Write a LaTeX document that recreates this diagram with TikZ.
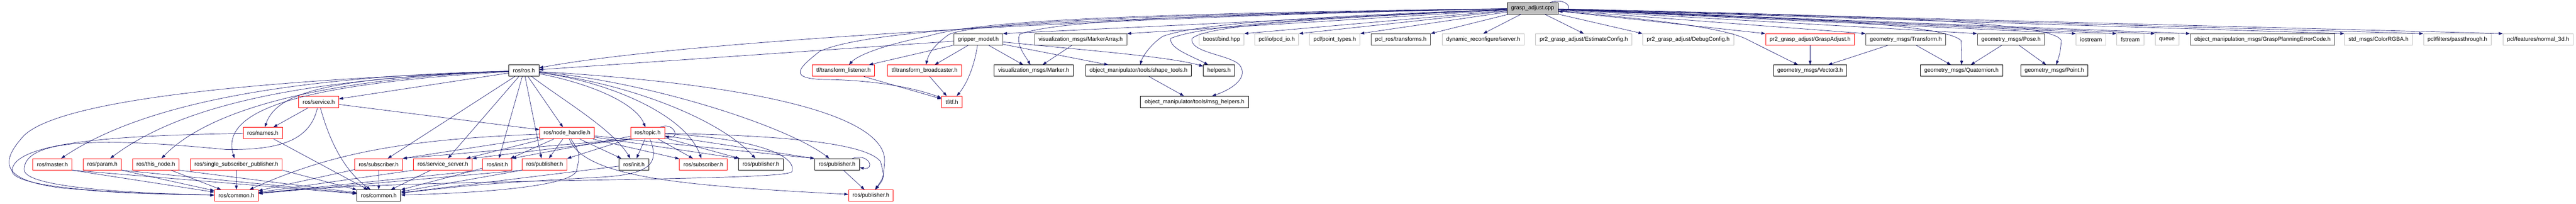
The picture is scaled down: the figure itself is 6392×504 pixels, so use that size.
\documentclass[tikz,border=0pt]{standalone}
\usepackage{fontspec}
\setmainfont{Liberation Sans}
\usetikzlibrary{arrows.meta}
\definecolor{edgeblue}{HTML}{191970}
\definecolor{greyA}{HTML}{404040}
\definecolor{greyB}{HTML}{BFBFBF}

\begin{document}
\begin{tikzpicture}[
    x=1pt, y=-1pt,
    file/.style={draw=black, line width=1.2pt, fill=white, minimum height=28pt, inner xsep=10pt, inner ysep=0pt, font=\fontsize{14}{16}\selectfont},
    redfile/.style={file, draw=red},
    grayfile/.style={file, draw=greyA},
    extfile/.style={file, draw=greyB},
    rootfile/.style={file, fill=greyB},
    edge/.style={draw=edgeblue, line width=0.9pt, -{Triangle[length=10pt,width=7pt]}}
]
\useasboundingbox (0,0) rectangle (6392,504);

% Define files
\node[rootfile] (root) at (3803,20.5) {grasp\_adjust.cpp};

\node[grayfile] (gripper) at (2427.5,97.75) {gripper\_model.h};
\node[grayfile] (markerarr) at (2681.5,97.75) {visualization\_msgs/MarkerArray.h};
\node[extfile] (bind) at (3031,97.75) {boost/bind.hpp};
\node[extfile] (pcdio) at (3168,97.75) {pcl/io/pcd\_io.h};
\node[extfile] (pointtypes) at (3312,97.75) {pcl/point\_types.h};
\node[grayfile] (pclros) at (3476,97.75) {pcl\_ros/transforms.h};
\node[extfile] (dynrec) at (3680.5,97.75) {dynamic\_reconfigure/server.h};
\node[extfile] (estcfg) at (3930,97.75) {pr2\_grasp\_adjust/EstimateConfig.h};
\node[extfile] (dbgcfg) at (4189,97.75) {pr2\_grasp\_adjust/DebugConfig.h};
\node[redfile] (graspadj) at (4491.5,97.75) {pr2\_grasp\_adjust/GraspAdjust.h};
\node[grayfile] (transform) at (4729,97.75) {geometry\_msgs/Transform.h};
\node[grayfile] (pose) at (4990,97.75) {geometry\_msgs/Pose.h};
\node[extfile] (iostream) at (5188.5,97.75) {iostream};
\node[extfile] (fstream) at (5286,97.75) {fstream};
\node[extfile] (queue) at (5377,97.75) {queue};
\node[grayfile] (errcode) at (5614,97.75) {object\_manipulation\_msgs/GraspPlanningErrorCode.h};
\node[extfile] (colorrgba) at (5902,97.75) {std\_msgs/ColorRGBA.h};
\node[extfile] (passthrough) at (6097.5,97.75) {pcl/filters/passthrough.h};
\node[extfile] (normald) at (6298,97.75) {pcl/features/normal\_3d.h};

\node[file] (rosros) at (1300,175) {ros/ros.h};
\node[redfile] (tflistener) at (2093,175) {tf/transform\_listener.h};
\node[redfile] (tfbroad) at (2294,175) {tf/transform\_broadcaster.h};
\node[file] (marker) at (2565,175) {visualization\_msgs/Marker.h};
\node[file] (shapetools) at (2825,175) {object\_manipulator/tools/shape\_tools.h};
\node[file] (helpers) at (3025,175) {helpers.h};
\node[file] (vector) at (4491.5,175) {geometry\_msgs/Vector3.h};
\node[file] (quaternion) at (4867,175) {geometry\_msgs/Quaternion.h};
\node[file] (point) at (5097.5,175) {geometry\_msgs/Point.h};

\node[redfile] (service) at (791,252.25) {ros/service.h};
\node[redfile] (tftf) at (2362,252.25) {tf/tf.h};
\node[file] (msghelpers) at (2964,252.25) {object\_manipulator/tools/msg\_helpers.h};

\node[redfile] (names) at (652,329.5) {ros/names.h};
\node[redfile] (nodehandle) at (1407,329.5) {ros/node\_handle.h};
\node[redfile] (topic) at (1607,329.5) {ros/topic.h};

\node[redfile] (master) at (130,406.75) {ros/master.h};
\node[redfile] (param) at (254,406.75) {ros/param.h};
\node[redfile] (thisnode) at (386.5,406.75) {ros/this\_node.h};
\node[redfile] (ssp) at (586.5,406.75) {ros/single\_subscriber\_publisher.h};
\node[redfile] (subA) at (939.5,406.75) {ros/subscriber.h};
\node[redfile] (srvserver) at (1099,406.75) {ros/service\_server.h};
\node[redfile] (initA) at (1234,406.75) {ros/init.h};
\node[redfile] (pubA) at (1351.5,406.75) {ros/publisher.h};
\node[file] (initB) at (1573,406.75) {ros/init.h};
\node[redfile] (subB) at (1745.5,406.75) {ros/subscriber.h};
\node[file] (pubB) at (1888,406.75) {ros/publisher.h};
\node[file] (pubC) at (2077,406.75) {ros/publisher.h};

\node[redfile] (commonA) at (586.5,484) {ros/common.h};
\node[file] (commonB) at (940,484) {ros/common.h};
\node[redfile] (pubD) at (2161,484) {ros/publisher.h};

% Draw straight includes
\foreach \u/\v in {root/gripper.north east, root/markerarr.north east, root/bind.north east,
    root/pcdio.north east, root/pointtypes.north east, root/pclros.north east, root/dynrec.north,
    root/estcfg.north, root/dbgcfg.north west, root/graspadj.north west, root/transform.north west,
    root/pose.north west, root/iostream.north west, root/fstream.north west, root/queue.north west,
    root/errcode.north west, root/colorrgba.north west, root/passthrough.north west, root/normald.north west,
    gripper/rosros, gripper/tflistener, gripper/tfbroad, gripper/marker, gripper/shapetools,
    markerarr/marker, shapetools/msghelpers, tflistener/tftf, tfbroad/tftf,
    graspadj/vector, transform/vector, transform/quaternion, pose/quaternion, pose/point,
    rosros/service, rosros/subA, rosros/srvserver, rosros/initA, rosros/nodehandle,
    service/names, service/nodehandle, names/commonB,
    master.south east/commonA, master.south east/commonB, param.south east/commonA, param.south east/commonB,
    thisnode/commonA, thisnode.south east/commonB, ssp/commonA, ssp.south east/commonB,
    subA/commonB, subA/commonA, srvserver/commonB, srvserver.south west/commonA,
    initA/commonB, initA.south west/commonA, pubA.south west/commonB, pubA.south west/commonA,
    nodehandle/subA.north east, nodehandle/srvserver, nodehandle/initA, nodehandle/pubA, nodehandle/initB,
    nodehandle/subB, nodehandle/pubB.north west, nodehandle/pubC.north west,
    topic.south west/subA.north east, topic.south west/srvserver.north east, topic/initA.north east,
    topic/pubA.north east, topic/initB, topic/subB, topic/pubB, topic/pubC.north west,
    initB/commonB, pubC/pubD} {
    \draw[edge] (\u) -- (\v);
}
\draw[edge] (rosros) -- ([xshift=-8pt]pubA.north);

% Draw curved includes
\foreach \u/\v/\ax/\ay/\bx/\by in {root/rosros/2800/40/1700/100, gripper/tftf/2420/150/2405/200,
    gripper/helpers/2700/125/2900/140, rosros/names/850/192/690/220, rosros/master/700/190/350/260,
    rosros/param/750/195/450/260, rosros/thisnode/800/195/520/270, rosros/ssp/800/205/540/260,
    rosros/initB/1400/250/1520/320, rosros/topic/1480/210/1580/260, rosros/subB/1500/200/1700/280,
    rosros/pubB/1550/205/1780/290, rosros/pubC/1600/200/1950/310, service/commonB/815/340/850/420,
    nodehandle/commonA/1000/345/820/380, nodehandle/pubD/1450/440/1700/460} {
    \draw[edge] (\u) .. controls (\ax,\ay) and (\bx,\by) .. (\v);
}

% Routed around other files
\draw[edge] (root) .. controls (2700,35) and (2420,55) .. (2300,90) .. controls (2200,110) and (2130,135) .. (tflistener);
\draw[edge] (root) .. controls (2700,38) and (2420,60) .. (2355,85) .. controls (2320,110) and (2305,130) .. (tfbroad);
\draw[edge] (root) .. controls (2600,45) and (2150,75) .. (2034,127) .. controls (1980,170) and (1950,197) .. (2060,197) .. controls (2200,200) and (2290,225) .. (tftf);
\draw[edge] (root) .. controls (3000,35) and (2620,50) .. (2530,85) .. controls (2520,110) and (2545,140) .. (marker);
\draw[edge] (root) .. controls (3300,40) and (2980,55) .. (2885,90) .. controls (2855,110) and (2835,140) .. (shapetools);
\draw[edge] (root) .. controls (3300,42) and (2990,60) .. (2905,95) .. controls (2900,120) and (2960,140) .. (helpers);
\draw[edge] (root) .. controls (3300,45) and (3000,60) .. (2958,95) .. controls (2950,130) and (3050,135) .. (3075,160) .. controls (3100,190) and (3060,220) .. (msghelpers);
\draw[edge] (root) .. controls (4000,40) and (4250,60) .. (4330,95) .. controls (4380,120) and (4430,145) .. (vector);
\draw[edge] (root) .. controls (4500,45) and (4820,60) .. (4866,100) .. controls (4868,130) .. (quaternion);
\draw[edge] (root) .. controls (4700,40) and (5090,55) .. (5115,100) .. controls (5112,130) .. (point);
\draw[edge] (rosros) .. controls (600,200) and (150,250) .. (60,335) .. controls (0,400) and (0,445) .. (150,465) .. controls (300,478) .. (commonA);
\draw[edge] (rosros) .. controls (1900,210) and (2200,290) .. (2195,400) .. controls (2192,440) .. (pubD);
\draw[edge] (service) .. controls (770,345) and (700,372) .. (560,370) .. controls (300,345) and (60,335) .. (60,420) .. controls (60,470) and (400,480) .. (commonA);
\draw[edge] (names) .. controls (300,335) and (40,350) .. (30,420) .. controls (20,470) and (350,480) .. (commonA);
\draw[edge] (nodehandle) .. controls (1440,380) .. (1430,425) .. controls (1400,470) and (1100,480) .. (commonB);
\draw[edge] (topic) .. controls (1950,335) and (2150,355) .. (2185,400) .. controls (2195,440) .. (pubD);
\draw[edge] (topic) .. controls (1635,400) and (1620,430) .. (1500,438) .. controls (1200,455) .. (commonB);
\draw[edge] (topic) .. controls (1850,340) and (1980,380) .. (1965,425) .. controls (1950,450) and (1000,440) .. (commonA);

% Self includes
\draw[edge] ([xshift=-20pt]root.north east) .. controls (3890,-8) and (3908,28) .. ([yshift=-8pt]root.east);
\draw[edge] ([xshift=-12pt]topic.north east) .. controls (1672,300) and (1690,345) .. ([yshift=-8pt]topic.east);
\draw[edge] ([xshift=-18pt]pubC.north east) .. controls (2158,378) and (2172,422) .. ([yshift=-8pt]pubC.east);

\end{tikzpicture}
\end{document}
